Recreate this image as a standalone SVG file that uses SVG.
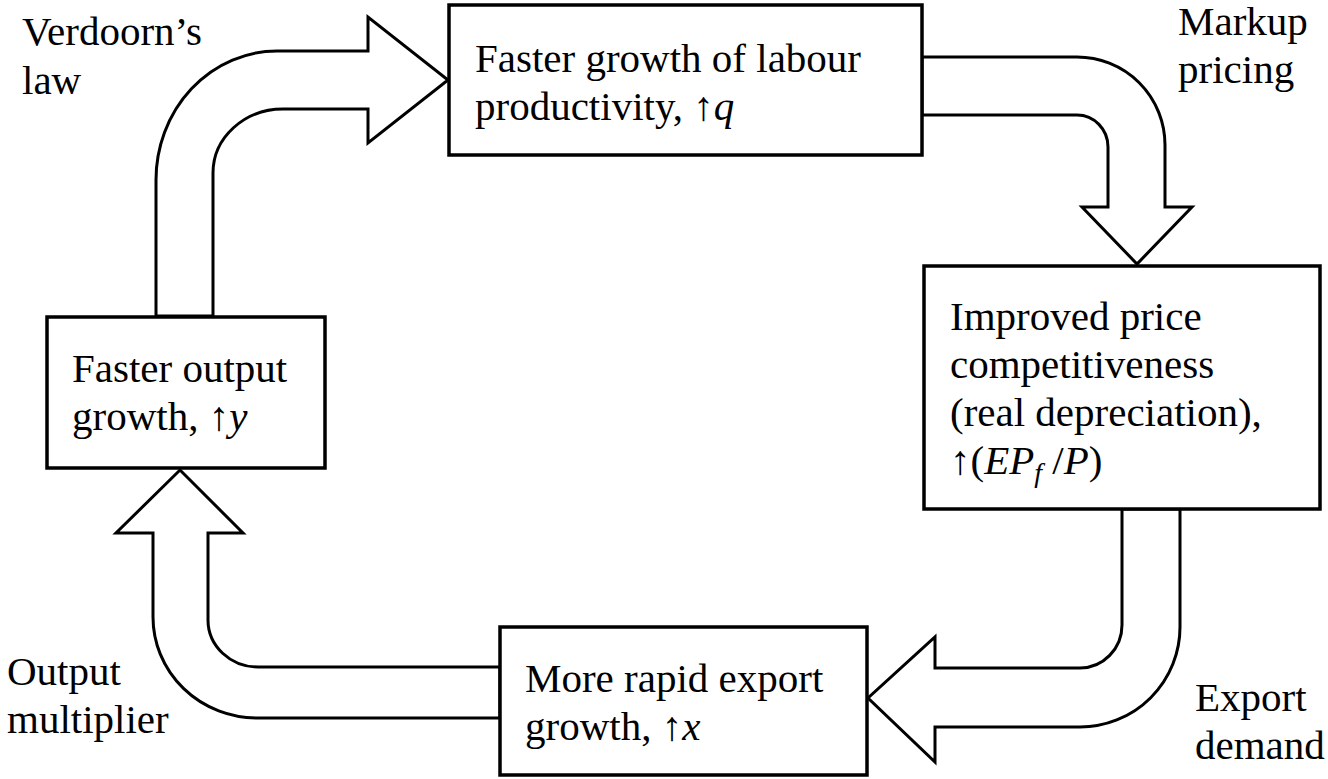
<svg xmlns="http://www.w3.org/2000/svg" width="1328" height="779" viewBox="0 0 1328 779">
<style>
.arrow{fill:#fff;stroke:#000;stroke-width:3;stroke-linejoin:miter}
.box{fill:#fff;stroke:#000;stroke-width:3.5}
.i{font-style:italic}
</style>
<rect width="1328" height="779" fill="#fff"/>
<g id="connectors">
<path class="arrow" d="M156,316 L156,180 A121,129 0 0 1 277,51 L368,51 L368,17 L448,80 L368,143 L368,109 L283,109 A70,64 0 0 0 213,173 L213,316 Z"/>
<path class="arrow" d="M922,57 L1077,57 A88,88 0 0 1 1165,145 L1165,207 L1192,207 L1137,264 L1082,207 L1108,207 L1108,147 A31,32 0 0 0 1077,115 L922,115 Z"/>
<path class="arrow" d="M1122,509 L1122,625 A42,43 0 0 1 1080,668 L935,668 L935,637 L868,698 L935,762 L935,727 L1080,727 A100,100 0 0 0 1180,627 L1180,509 Z"/>
<path class="arrow" d="M500,667 L258,667 A50,47 0 0 1 208,620 L208,533 L243,533 L180,470 L116,533 L153,533 L153,617 A104,101 0 0 0 257,718 L500,718 Z"/>
</g>
<g font-family="Liberation Serif, Times New Roman, serif" font-size="41" fill="#000">
<g id="node-productivity">
<rect class="box" x="449" y="5" width="473" height="150"/>
<text x="475" y="72">Faster growth of labour</text>
<text x="475" y="120">productivity, ↑<tspan class="i">q</tspan></text>
</g>
<g id="node-competitiveness">
<rect class="box" x="924" y="266" width="396" height="243"/>
<text x="950" y="330">Improved price</text>
<text x="950" y="378">competitiveness</text>
<text x="950" y="426">(real depreciation),</text>
<text x="950" y="474">↑(<tspan class="i">EP</tspan><tspan class="i" font-size="28" dy="8">f</tspan><tspan dy="-8"> /</tspan><tspan class="i">P</tspan>)</text>
</g>
<g id="node-exports">
<rect class="box" x="500" y="627" width="367" height="148"/>
<text x="525" y="692">More rapid export</text>
<text x="525" y="740">growth, ↑<tspan class="i">x</tspan></text>
</g>
<g id="node-output">
<rect class="box" x="47" y="317" width="278" height="151"/>
<text x="72" y="382">Faster output</text>
<text x="72" y="430">growth, ↑<tspan class="i">y</tspan></text>
</g>
<g id="labels">
<text x="22" y="45">Verdoorn’s</text>
<text x="22" y="94">law</text>
<text x="1178" y="35">Markup</text>
<text x="1178" y="83">pricing</text>
<text x="1195" y="711">Export</text>
<text x="1195" y="759">demand</text>
<text x="7" y="685">Output</text>
<text x="7" y="733">multiplier</text>
</g>
</g>
</svg>
